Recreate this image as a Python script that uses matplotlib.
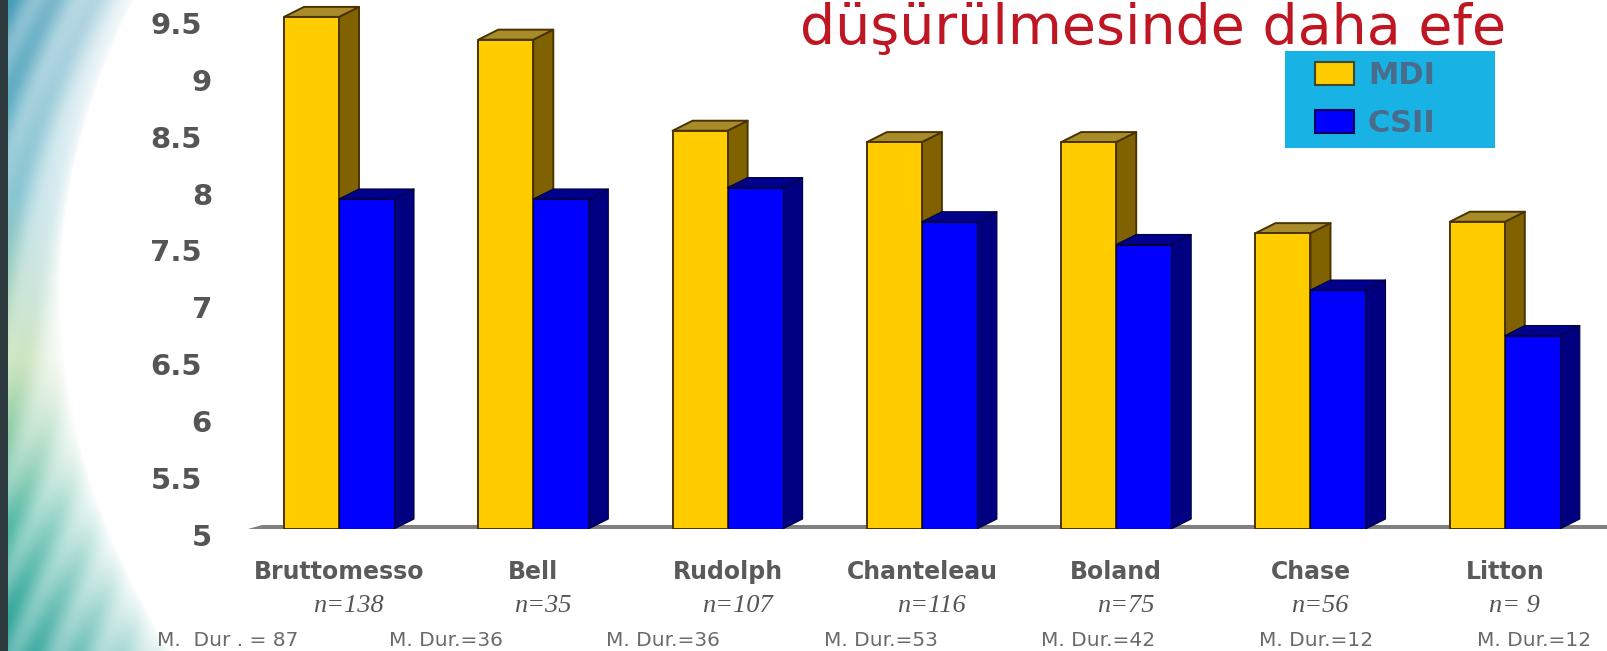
import numpy as np
import matplotlib
matplotlib.use("Agg")
import matplotlib.pyplot as plt
from matplotlib.patches import Polygon, Rectangle
from matplotlib.transforms import ScaledTranslation, blended_transform_factory

# ---- data -------------------------------------------------------------
studies = ["Bruttomesso", "Bell", "Rudolph", "Chanteleau", "Boland", "Chase", "Litton"]
sample_sizes = ["n=138", "n=35", "n=107", "n=116", "n=75", "n=56", "n= 9"]
durations = ["M.  Dur . = 87", "M. Dur.=36", "M. Dur.=36", "M. Dur.=53",
             "M. Dur.=42", "M. Dur.=12", "M. Dur.=12"]
mdi_values = [9.5, 9.3, 8.5, 8.4, 8.4, 7.6, 7.7]
csii_values = [7.9, 7.9, 8.0, 7.7, 7.5, 7.1, 6.7]
series_names = ["MDI", "CSII"]
y_ticks = [5, 5.5, 6, 6.5, 7, 7.5, 8, 8.5, 9, 9.5]
y_tick_labels = ["5", "5.5", "6", "6.5", "7", "7.5", "8", "8.5", "9", "9.5"]
title_text = "düşürülmesinde daha efe"

# ---- layout (figure pixels) ------------------------------------------
W, H = 1608, 651
DPI = 100
GROUP_PX = 194.3        # distance between study groups
FIRST_GROUP_PX = 339    # x of the first group's centre line
AX_LEFT_PX = 240
FLOOR_PX = 529          # y of the value-axis minimum
UNIT_PX = 113.8         # pixels per unit on the value axis
BAR_PX = 55
DEPTH_DX_PX, DEPTH_DY_PX = 20, 10

MDI_FRONT, MDI_SIDE, MDI_TOP, MDI_EDGE = "#FFCC00", "#806300", "#A88C2A", "#4A3300"
CSII_FRONT, CSII_SIDE, CSII_TOP, CSII_EDGE = "#0000FF", "#000080", "#00008C", "#00003C"
LABEL_GREY = "#555555"

fig = plt.figure(figsize=(W / DPI, H / DPI), dpi=DPI)
fig.patch.set_facecolor("white")

# ---- decorative backdrop on the left ---------------------------------
bg = fig.add_axes([0, 0, 1, 1])
bg.set_xlim(0, W)
bg.set_ylim(H, 0)
bg.axis("off")

bw = 240
yy, xx = np.mgrid[0:H, 0:bw].astype(float)
t = yy / (H - 1)
edge = 60 + 110 * ((t - 0.45) / 0.55) ** 2
alpha = np.clip(1 - xx / edge, 0, 1) ** 0.75
streak = 0.5 + 0.5 * np.sin((xx + 0.35 * yy) / 7.0 + 2 * np.sin(yy / 90.0))
alpha = alpha * (0.72 + 0.28 * streak)
stop_t = [0.0, 0.3, 0.55, 0.8, 1.0]
stop_rgb = np.array([(60, 150, 180), (110, 185, 200), (185, 218, 165),
                     (75, 182, 160), (35, 158, 148)], float)
tint = np.stack([np.interp(t, stop_t, stop_rgb[:, c]) for c in range(3)], axis=-1)
backdrop = (255 * (1 - alpha[..., None]) + tint * alpha[..., None]) / 255.0
backdrop[:, :8] = np.array([46, 59, 62]) / 255.0
bg.imshow(backdrop, extent=(0, bw, H, 0), aspect="auto", interpolation="bilinear")

# ---- main chart axes --------------------------------------------------
ax = fig.add_axes([AX_LEFT_PX / W, (H - FLOOR_PX) / H,
                   (W - AX_LEFT_PX) / W, FLOOR_PX / H])
ax.patch.set_alpha(0)
ax.set_xlim((AX_LEFT_PX - FIRST_GROUP_PX) / GROUP_PX, (W - FIRST_GROUP_PX) / GROUP_PX)
y_min = 5.0
ax.set_ylim(y_min, y_min + FLOOR_PX / UNIT_PX)
for s in ax.spines.values():
    s.set_visible(False)

bar_w = BAR_PX / GROUP_PX
dx = DEPTH_DX_PX / GROUP_PX
dy = DEPTH_DY_PX / UNIT_PX

# floor edge
floor_th = 3.5 / UNIT_PX
fl_left = (248 - FIRST_GROUP_PX) / GROUP_PX
fl_right = ax.get_xlim()[1]
ax.add_patch(Polygon([(fl_left, y_min), (fl_right, y_min), (fl_right, y_min + floor_th),
                      (fl_left + 14 / GROUP_PX, y_min + floor_th)],
                     closed=True, facecolor="#808080", edgecolor="none", zorder=1))


def draw_column(x0, value, front, side, top, edgec, lw, z):
    side_poly = [(x0 + bar_w, y_min), (x0 + bar_w + dx, y_min + dy),
                 (x0 + bar_w + dx, value + dy), (x0 + bar_w, value)]
    top_poly = [(x0, value), (x0 + dx, value + dy),
                (x0 + bar_w + dx, value + dy), (x0 + bar_w, value)]
    ax.add_patch(Polygon(side_poly, closed=True, facecolor=side, edgecolor=edgec,
                         linewidth=lw, joinstyle="round", zorder=z))
    ax.add_patch(Polygon(top_poly, closed=True, facecolor=top, edgecolor=edgec,
                         linewidth=lw, joinstyle="round", zorder=z))
    ax.add_patch(Rectangle((x0, y_min), bar_w, value - y_min, facecolor=front,
                           edgecolor=edgec, linewidth=lw, joinstyle="round", zorder=z))


for i, (m, c) in enumerate(zip(mdi_values, csii_values)):
    draw_column(i - bar_w, m, MDI_FRONT, MDI_SIDE, MDI_TOP, MDI_EDGE, 1.4, 2)
    draw_column(i, c, CSII_FRONT, CSII_SIDE, CSII_TOP, CSII_EDGE, 0.8, 3)

# value axis labels
ax.set_yticks(y_ticks)
ax.set_yticklabels(y_tick_labels)
ax.tick_params(axis="y", length=0, pad=(AX_LEFT_PX - 212) * 72 / DPI,
               labelsize=21, labelcolor=LABEL_GREY)
for lab in ax.get_yticklabels():
    lab.set_fontweight("bold")
    lab.set_family("DejaVu Sans")
    shift_x = -10 if "." in lab.get_text() else 0
    lab.set_transform(lab.get_transform()
                      + ScaledTranslation(shift_x / DPI, -6 / DPI, fig.dpi_scale_trans))

# study names
ax.set_xticks(range(len(studies)))
ax.set_xticklabels(studies)
ax.tick_params(axis="x", length=0, pad=22, labelsize=17, labelcolor="#5A5A5A")
for lab in ax.get_xticklabels():
    lab.set_fontweight("bold")
    lab.set_family("DejaVu Sans")

# sample sizes and mean durations
xdata_yfig = blended_transform_factory(ax.transData, fig.transFigure)
for i, txt in enumerate(sample_sizes):
    ax.text(i + 0.05, 1 - 606 / H, txt, transform=xdata_yfig, ha="center", va="center",
            fontsize=19, style="italic", family="Liberation Serif", color="#555555")
for i, txt in enumerate(durations):
    cx = 228 + i * 217.6
    fig.text(cx / W, 1 - 640 / H, txt, ha="center", va="center",
             fontsize=14.5, family="DejaVu Sans", color="#6A6A6A")

# legend panel
fig.patches.append(Rectangle((1285 / W, 1 - 148 / H), 210 / W, 97 / H,
                             transform=fig.transFigure, facecolor="#19B2E4",
                             edgecolor="none", zorder=5))
legend_rows = [(MDI_FRONT, "#3A4A2A", 62), (CSII_FRONT, "#00005A", 110)]
for name, (fc, ec, top_px) in zip(series_names, legend_rows):
    fig.patches.append(Rectangle((1315 / W, 1 - (top_px + 23) / H), 39 / W, 23 / H,
                                 transform=fig.transFigure, facecolor=fc,
                                 edgecolor=ec, linewidth=1.5, zorder=6))
    fig.text(1368 / W, 1 - (top_px + 13) / H, name, ha="left", va="center",
             fontsize=22, fontweight="bold", family="DejaVu Sans",
             color="#4A6C8A", zorder=7)

# heading
fig.text(800 / W, 1 - 44 / H, title_text, ha="left", va="baseline",
         fontsize=40, family="DejaVu Sans", color="#BE1622")

fig.savefig("out.png", dpi=DPI)
